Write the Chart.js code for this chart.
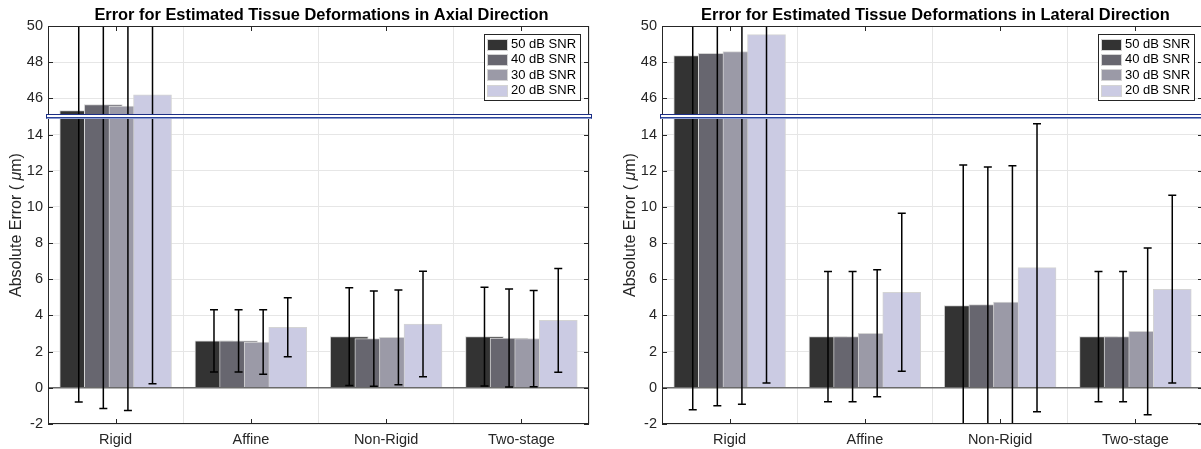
<!DOCTYPE html>
<html><head><meta charset="utf-8">
<script src="https://cdn.jsdelivr.net/npm/chart.js@4"></script>
<style>
html,body{margin:0;padding:0;background:#fff;overflow:hidden;width:1201px;height:449px;position:relative;}
#c1{position:absolute;left:0;top:0;}
#c2{position:absolute;left:600px;top:0;}
</style></head><body>
<canvas id="c1" width="600" height="449"></canvas>
<canvas id="c2" width="614" height="449"></canvas>
<script>
// ---------- data ----------
const categories = ['Rigid', 'Affine', 'Non-Rigid', 'Two-stage'];
const seriesLabels = ['50 dB SNR', '40 dB SNR', '30 dB SNR', '20 dB SNR'];
const yTickLabels = [-2, 0, 2, 4, 6, 8, 10, 12, 14, 46, 48, 50];
const breakFrom = 15, breakTo = 45;
const titleAxial = 'Error for Estimated Tissue Deformations in Axial Direction';
const titleLateral = 'Error for Estimated Tissue Deformations in Lateral Direction';

// Axial means (µm)
const axial50 = [45.32, 2.60, 2.83, 2.83];
const axial40 = [45.65, 2.60, 2.72, 2.75];
const axial30 = [45.58, 2.53, 2.79, 2.72];
const axial20 = [46.19, 3.35, 3.53, 3.73];
// Axial standard deviations
const axialErr50 = [46.10, 1.72, 2.70, 2.73];
const axialErr40 = [46.80, 1.72, 2.63, 2.71];
const axialErr30 = [46.84, 1.78, 2.62, 2.66];
const axialErr20 = [45.96, 1.63, 2.92, 2.87];

// Lateral means (µm)
const lateral50 = [48.36, 2.83, 4.54, 2.83];
const lateral40 = [48.49, 2.83, 4.60, 2.83];
const lateral30 = [48.58, 3.01, 4.74, 3.12];
const lateral20 = [49.52, 5.28, 6.64, 5.45];
// Lateral standard deviations
const lateralErr50 = [49.57, 3.60, 7.78, 3.60];
const lateralErr40 = [49.48, 3.60, 7.61, 3.60];
const lateralErr30 = [49.49, 3.51, 7.54, 4.61];
const lateralErr20 = [49.25, 4.37, 7.96, 5.19];

// ---------- styling ----------
const seriesColors = ['#333333', '#67666f', '#9b9aa7', '#cbcbe3'];
const FONT = "'Liberation Sans', Arial, Helvetica, sans-serif";
Chart.defaults.font.family = FONT;

const gap = breakTo - breakFrom;
const toAxis = v => (v >= breakTo ? v - gap : v);
const fromAxis = a => (a > breakFrom ? a + gap : a);
const yMin = toAxis(yTickLabels[0]);
const yMax = toAxis(yTickLabels[yTickLabels.length - 1]);
const nSeries = seriesLabels.length;
const groupWidth = nSeries / (nSeries + 1.5);
const barStep = groupWidth / nSeries;

function buildChart(canvasId, yAxisWidth, title, means, errs) {
  const datasets = means.map((arr, k) => ({
    label: seriesLabels[k],
    data: arr.map((v, i) => ({ x: i + 1 + (k - (nSeries - 1) / 2) * barStep, y: toAxis(v) })),
    backgroundColor: seriesColors[k],
    borderColor: '#d4d4d4',
    borderWidth: 1,
    barThickness: 38,
    grouped: false,
    order: nSeries - 1 - k
  }));

  const deco = {
    id: 'deco' + canvasId,
    afterDatasetsDraw(chart) {
      const ctx = chart.ctx, a = chart.chartArea;
      const ys = chart.scales.y, xs = chart.scales.x;
      // baseline at 0
      ctx.save();
      ctx.strokeStyle = '#6a6a6a';
      ctx.lineWidth = 1.5;
      const y0 = ys.getPixelForValue(0);
      ctx.beginPath(); ctx.moveTo(a.left, y0); ctx.lineTo(a.right, y0); ctx.stroke();
      ctx.restore();

      // error bars
      ctx.save();
      ctx.beginPath(); ctx.rect(a.left, a.top, a.right - a.left, a.bottom - a.top); ctx.clip();
      ctx.strokeStyle = '#000'; ctx.lineWidth = 1.5;
      means.forEach((arr, k) => {
        const meta = chart.getDatasetMeta(k);
        arr.forEach((m, i) => {
          const s = errs[k][i];
          const x = meta.data[i].x;
          const hi = ys.getPixelForValue(Math.min(toAxis(m + s), yMax + 5));
          const lo = ys.getPixelForValue(Math.max(toAxis(m - s), yMin - 5));
          ctx.beginPath();
          ctx.moveTo(x, lo); ctx.lineTo(x, hi);
          ctx.moveTo(x - 4, hi); ctx.lineTo(x + 4, hi);
          ctx.moveTo(x - 4, lo); ctx.lineTo(x + 4, lo);
          ctx.stroke();
        });
      });
      ctx.restore();

      // axes box and inward ticks
      ctx.save();
      ctx.strokeStyle = '#262626'; ctx.lineWidth = 1;
      ctx.strokeRect(a.left + 0.5, a.top + 0.5, a.right - a.left - 1, a.bottom - a.top - 1);
      ctx.beginPath();
      ys.ticks.forEach(t => {
        const y = Math.round(ys.getPixelForValue(t.value)) + 0.5;
        ctx.moveTo(a.left, y); ctx.lineTo(a.left + 5, y);
        ctx.moveTo(a.right, y); ctx.lineTo(a.right - 5, y);
      });
      xs.ticks.forEach(t => {
        const x = Math.round(xs.getPixelForValue(t.value)) + 0.5;
        ctx.moveTo(x, a.bottom); ctx.lineTo(x, a.bottom - 5);
        ctx.moveTo(x, a.top); ctx.lineTo(x, a.top + 5);
      });
      ctx.stroke();
      ctx.restore();

      // axis break band
      ctx.save();
      const yb = Math.round(ys.getPixelForValue(breakFrom));
      const bx0 = a.left - 2, bx1 = a.right + 3;
      ctx.fillStyle = '#ffffff';
      ctx.fillRect(bx0, yb - 2, bx1 - bx0, 5);
      ctx.lineWidth = 1;
      ctx.strokeStyle = '#1c2e84';
      ctx.beginPath(); ctx.moveTo(bx0, yb - 1.5); ctx.lineTo(bx1, yb - 1.5); ctx.stroke();
      ctx.strokeStyle = '#2c449a';
      ctx.beginPath(); ctx.moveTo(bx0, yb + 1.5); ctx.lineTo(bx1, yb + 1.5); ctx.stroke();
      ctx.strokeStyle = '#8c9bd0';
      ctx.beginPath(); ctx.moveTo(bx0, yb + 2.5); ctx.lineTo(bx1, yb + 2.5); ctx.stroke();
      ctx.strokeStyle = '#1c2e84';
      ctx.beginPath(); ctx.moveTo(bx0 + 0.5, yb - 1.5); ctx.lineTo(bx0 + 0.5, yb + 2.5);
      ctx.moveTo(bx1 - 0.5, yb - 1.5); ctx.lineTo(bx1 - 0.5, yb + 2.5); ctx.stroke();
      ctx.restore();

      // legend
      ctx.save();
      const lw = 96, lh = 66;
      const lx = Math.round(a.right - 9 - lw), ly = Math.round(a.top + 8);
      ctx.fillStyle = '#fff';
      ctx.fillRect(lx, ly, lw, lh);
      ctx.strokeStyle = '#262626'; ctx.lineWidth = 1;
      ctx.strokeRect(lx + 0.5, ly + 0.5, lw, lh);
      ctx.font = '13px ' + FONT;
      ctx.textBaseline = 'middle'; ctx.textAlign = 'left';
      seriesLabels.forEach((lab, k) => {
        const cy = ly + 10.5 + 15.4 * k;
        ctx.fillStyle = seriesColors[k];
        ctx.fillRect(lx + 3, Math.round(cy - 6), 21, 12);
        ctx.strokeStyle = '#d4d4d4';
        ctx.strokeRect(lx + 3.5, Math.round(cy - 6) + 0.5, 20, 11);
        ctx.fillStyle = '#000';
        ctx.fillText(lab, lx + 27, cy);
      });
      ctx.restore();

      // title
      ctx.save();
      ctx.font = 'bold 16.4px ' + FONT;
      ctx.fillStyle = '#000';
      ctx.textAlign = 'center'; ctx.textBaseline = 'alphabetic';
      ctx.fillText(title, (a.left + a.right) / 2 + 3, 19.5);
      ctx.restore();

      // y axis label with italic mu
      ctx.save();
      const parts = [['Absolute Error ( ', ''], ['\u03bc', 'italic '], ['m)', '']];
      let total = 0;
      parts.forEach(p => { ctx.font = p[1] + '16px ' + FONT; p.push(ctx.measureText(p[0]).width); total += p[2]; });
      ctx.translate(a.left - 31.5, (a.top + a.bottom) / 2);
      ctx.rotate(-Math.PI / 2);
      ctx.fillStyle = '#262626'; ctx.textBaseline = 'middle'; ctx.textAlign = 'left';
      let px = -total / 2;
      parts.forEach(p => { ctx.font = p[1] + '16px ' + FONT; ctx.fillText(p[0], px, 0); px += p[2]; });
      ctx.restore();
    }
  };

  return new Chart(document.getElementById(canvasId), {
    type: 'bar',
    data: { datasets },
    options: {
      responsive: false,
      animation: false,
      devicePixelRatio: 1,
      layout: { padding: { top: 26, right: 11, bottom: 0, left: 0 } },
      plugins: { legend: { display: false }, tooltip: { enabled: false }, title: { display: false } },
      scales: {
        x: {
          type: 'linear', min: 0.5, max: 4.5, offset: false,
          afterBuildTicks: s => { s.ticks = categories.map((c, i) => ({ value: i + 1 })); },
          afterFit: s => { s.height = 25; },
          ticks: { callback: v => categories[Math.round(v) - 1], color: '#262626', font: { size: 14.5 }, padding: 7, maxRotation: 0 },
          grid: { color: '#e6e6e6', drawTicks: false },
          border: { display: false }
        },
        y: {
          type: 'linear', min: yMin, max: yMax,
          afterBuildTicks: s => { s.ticks = yTickLabels.map(v => ({ value: toAxis(v) })); },
          afterFit: s => { s.width = yAxisWidth; },
          ticks: { callback: v => String(fromAxis(v)), color: '#262626', font: { size: 14.5 }, padding: 5 },
          grid: { color: '#e6e6e6', drawTicks: false },
          border: { display: false }
        }
      }
    },
    plugins: [deco]
  });
}

buildChart('c1', 48, titleAxial,
  [axial50, axial40, axial30, axial20],
  [axialErr50, axialErr40, axialErr30, axialErr20]);
buildChart('c2', 62, titleLateral,
  [lateral50, lateral40, lateral30, lateral20],
  [lateralErr50, lateralErr40, lateralErr30, lateralErr20]);
</script>
</body></html>
